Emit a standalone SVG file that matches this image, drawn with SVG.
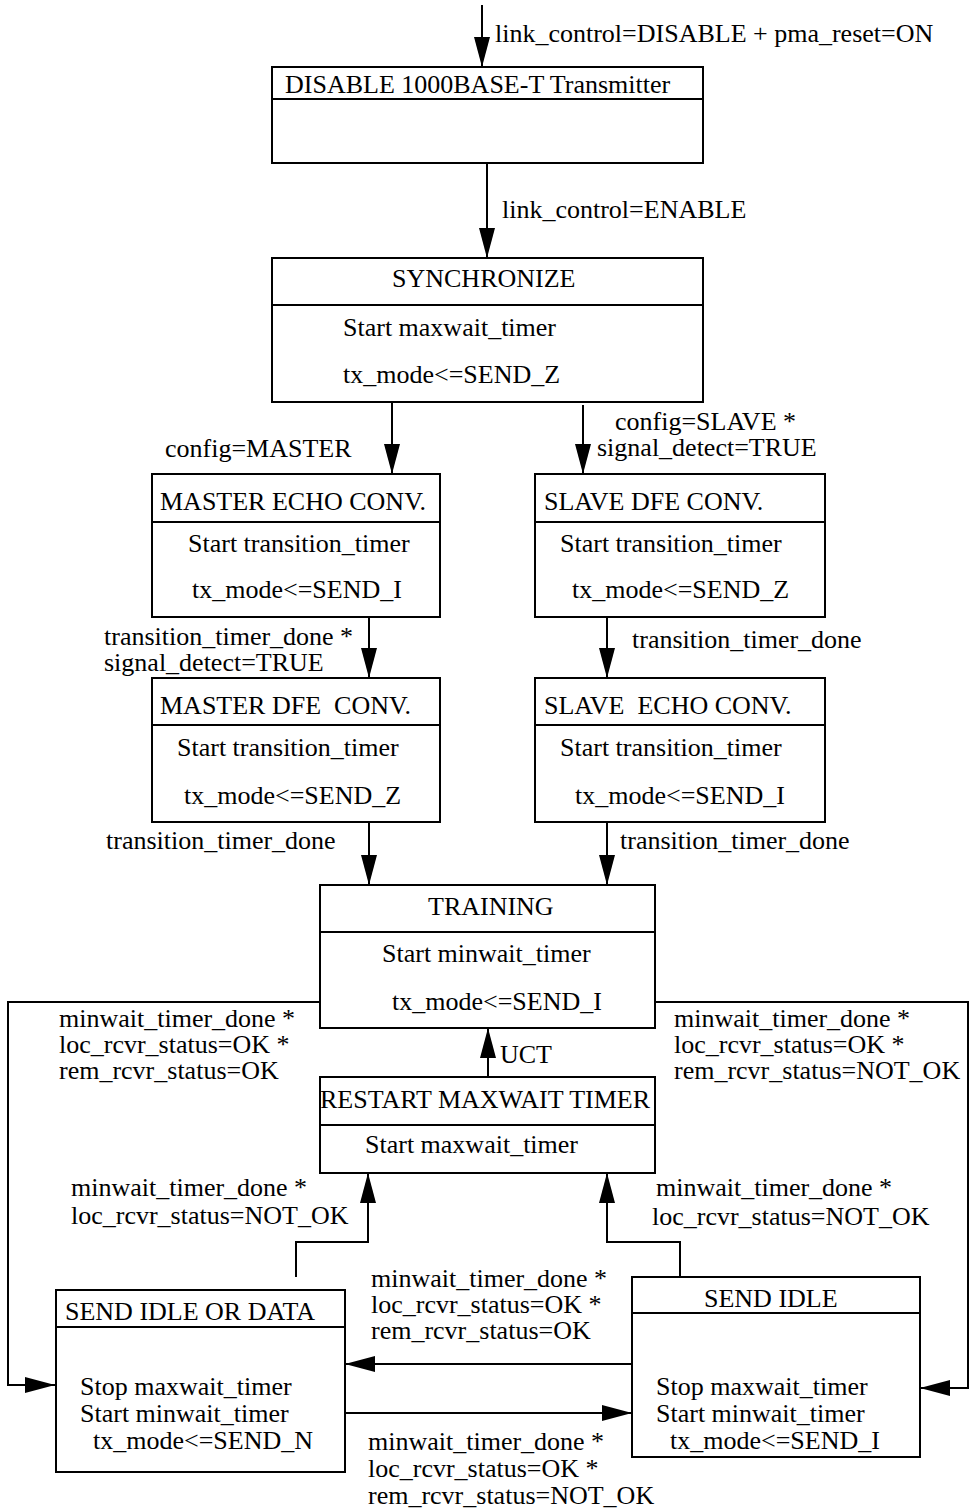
<svg xmlns="http://www.w3.org/2000/svg" width="969" height="1512" viewBox="0 0 969 1512">
<style>
text { font-family: "Liberation Serif", "Times New Roman", serif; font-size: 26px; fill: #000; white-space: pre; }
.box { fill: #fff; stroke: #000; stroke-width: 2; }
.div { stroke: #000; stroke-width: 2; }
.wire { fill: none; stroke: #000; stroke-width: 2; marker-end: url(#ah); }
</style>
<defs>
<marker id="ah" markerUnits="userSpaceOnUse" markerWidth="30" markerHeight="16" refX="30" refY="8" orient="auto">
<path d="M0,0 L30,8 L0,16 z" fill="#000"/>
</marker>
</defs>
<rect width="969" height="1512" fill="#fff"/>

<g id="connectors">
<path class="wire" d="M482,5 V67"/>
<path class="wire" d="M487,163 V258"/>
<path class="wire" d="M392,402 V474"/>
<path class="wire" d="M583,405 V474"/>
<path class="wire" d="M369,617 V678"/>
<path class="wire" d="M607,617 V678"/>
<path class="wire" d="M369,822 V885"/>
<path class="wire" d="M607,822 V885"/>
<path class="wire" d="M488,1077 V1028"/>
<path class="wire" d="M296,1277 V1242 H368 V1173"/>
<path class="wire" d="M680,1277 V1242 H607 V1173"/>
<path class="wire" d="M320,1002 H8 V1385 H55"/>
<path class="wire" d="M655,1002 H968 V1388 H920"/>
<path class="wire" d="M632,1364 H345"/>
<path class="wire" d="M345,1413 H632"/>
<text x="495" y="42">link_control=DISABLE + pma_reset=ON</text>
<text x="502" y="218">link_control=ENABLE</text>
<text x="165" y="457">config=MASTER</text>
<text x="615" y="430">config=SLAVE *</text>
<text x="597" y="456">signal_detect=TRUE</text>
<text x="104" y="645">transition_timer_done *</text>
<text x="104" y="671">signal_detect=TRUE</text>
<text x="632" y="648">transition_timer_done</text>
<text x="106" y="849">transition_timer_done</text>
<text x="620" y="849">transition_timer_done</text>
<text x="500" y="1063">UCT</text>
<text x="59" y="1027">minwait_timer_done *</text>
<text x="59" y="1053">loc_rcvr_status=OK *</text>
<text x="59" y="1079">rem_rcvr_status=OK</text>
<text x="674" y="1027">minwait_timer_done *</text>
<text x="674" y="1053">loc_rcvr_status=OK *</text>
<text x="674" y="1079">rem_rcvr_status=NOT_OK</text>
<text x="71" y="1196">minwait_timer_done *</text>
<text x="71" y="1224">loc_rcvr_status=NOT_OK</text>
<text x="656" y="1196">minwait_timer_done *</text>
<text x="652" y="1225">loc_rcvr_status=NOT_OK</text>
<text x="371" y="1287">minwait_timer_done *</text>
<text x="371" y="1313">loc_rcvr_status=OK *</text>
<text x="371" y="1339">rem_rcvr_status=OK</text>
<text x="368" y="1450">minwait_timer_done *</text>
<text x="368" y="1477">loc_rcvr_status=OK *</text>
<text x="368" y="1504">rem_rcvr_status=NOT_OK</text>
</g>

<g id="disable">
<rect class="box" x="272" y="67" width="431" height="96"/>
<line class="div" x1="272" y1="99" x2="703" y2="99"/>
<text x="285" y="93">DISABLE 1000BASE-T Transmitter</text>
</g>

<g id="synchronize">
<rect class="box" x="272" y="258" width="431" height="144"/>
<line class="div" x1="272" y1="305" x2="703" y2="305"/>
<text x="392" y="287">SYNCHRONIZE</text>
<text x="343" y="336">Start maxwait_timer</text>
<text x="343" y="383">tx_mode&lt;=SEND_Z</text>
</g>

<g id="master-echo">
<rect class="box" x="152" y="474" width="288" height="143"/>
<line class="div" x1="152" y1="522" x2="440" y2="522"/>
<text x="160" y="510">MASTER ECHO CONV.</text>
<text x="188" y="552">Start transition_timer</text>
<text x="192" y="598">tx_mode&lt;=SEND_I</text>
</g>

<g id="slave-dfe">
<rect class="box" x="535" y="474" width="290" height="143"/>
<line class="div" x1="535" y1="522" x2="825" y2="522"/>
<text x="544" y="510">SLAVE DFE CONV.</text>
<text x="560" y="552">Start transition_timer</text>
<text x="572" y="598">tx_mode&lt;=SEND_Z</text>
</g>

<g id="master-dfe">
<rect class="box" x="152" y="678" width="288" height="144"/>
<line class="div" x1="152" y1="725" x2="440" y2="725"/>
<text x="160" y="714">MASTER DFE  CONV.</text>
<text x="177" y="756">Start transition_timer</text>
<text x="184" y="804">tx_mode&lt;=SEND_Z</text>
</g>

<g id="slave-echo">
<rect class="box" x="535" y="678" width="290" height="144"/>
<line class="div" x1="535" y1="725" x2="825" y2="725"/>
<text x="544" y="714">SLAVE  ECHO CONV.</text>
<text x="560" y="756">Start transition_timer</text>
<text x="575" y="804">tx_mode&lt;=SEND_I</text>
</g>

<g id="training">
<rect class="box" x="320" y="885" width="335" height="143"/>
<line class="div" x1="320" y1="932" x2="655" y2="932"/>
<text x="428" y="915">TRAINING</text>
<text x="382" y="962">Start minwait_timer</text>
<text x="392" y="1010">tx_mode&lt;=SEND_I</text>
</g>

<g id="restart-maxwait">
<rect class="box" x="320" y="1077" width="335" height="96"/>
<line class="div" x1="320" y1="1125" x2="655" y2="1125"/>
<text x="320" y="1108">RESTART MAXWAIT TIMER</text>
<text x="365" y="1153">Start maxwait_timer</text>
</g>

<g id="send-idle-or-data">
<rect class="box" x="56" y="1290" width="289" height="182"/>
<line class="div" x1="56" y1="1327" x2="345" y2="1327"/>
<text x="65" y="1320">SEND IDLE OR DATA</text>
<text x="80" y="1395">Stop maxwait_timer</text>
<text x="80" y="1422">Start minwait_timer</text>
<text x="93" y="1449">tx_mode&lt;=SEND_N</text>
</g>

<g id="send-idle">
<rect class="box" x="632" y="1277" width="288" height="180"/>
<line class="div" x1="632" y1="1313" x2="920" y2="1313"/>
<text x="704" y="1307">SEND IDLE</text>
<text x="656" y="1395">Stop maxwait_timer</text>
<text x="656" y="1422">Start minwait_timer</text>
<text x="670" y="1449">tx_mode&lt;=SEND_I</text>
</g>
</svg>
